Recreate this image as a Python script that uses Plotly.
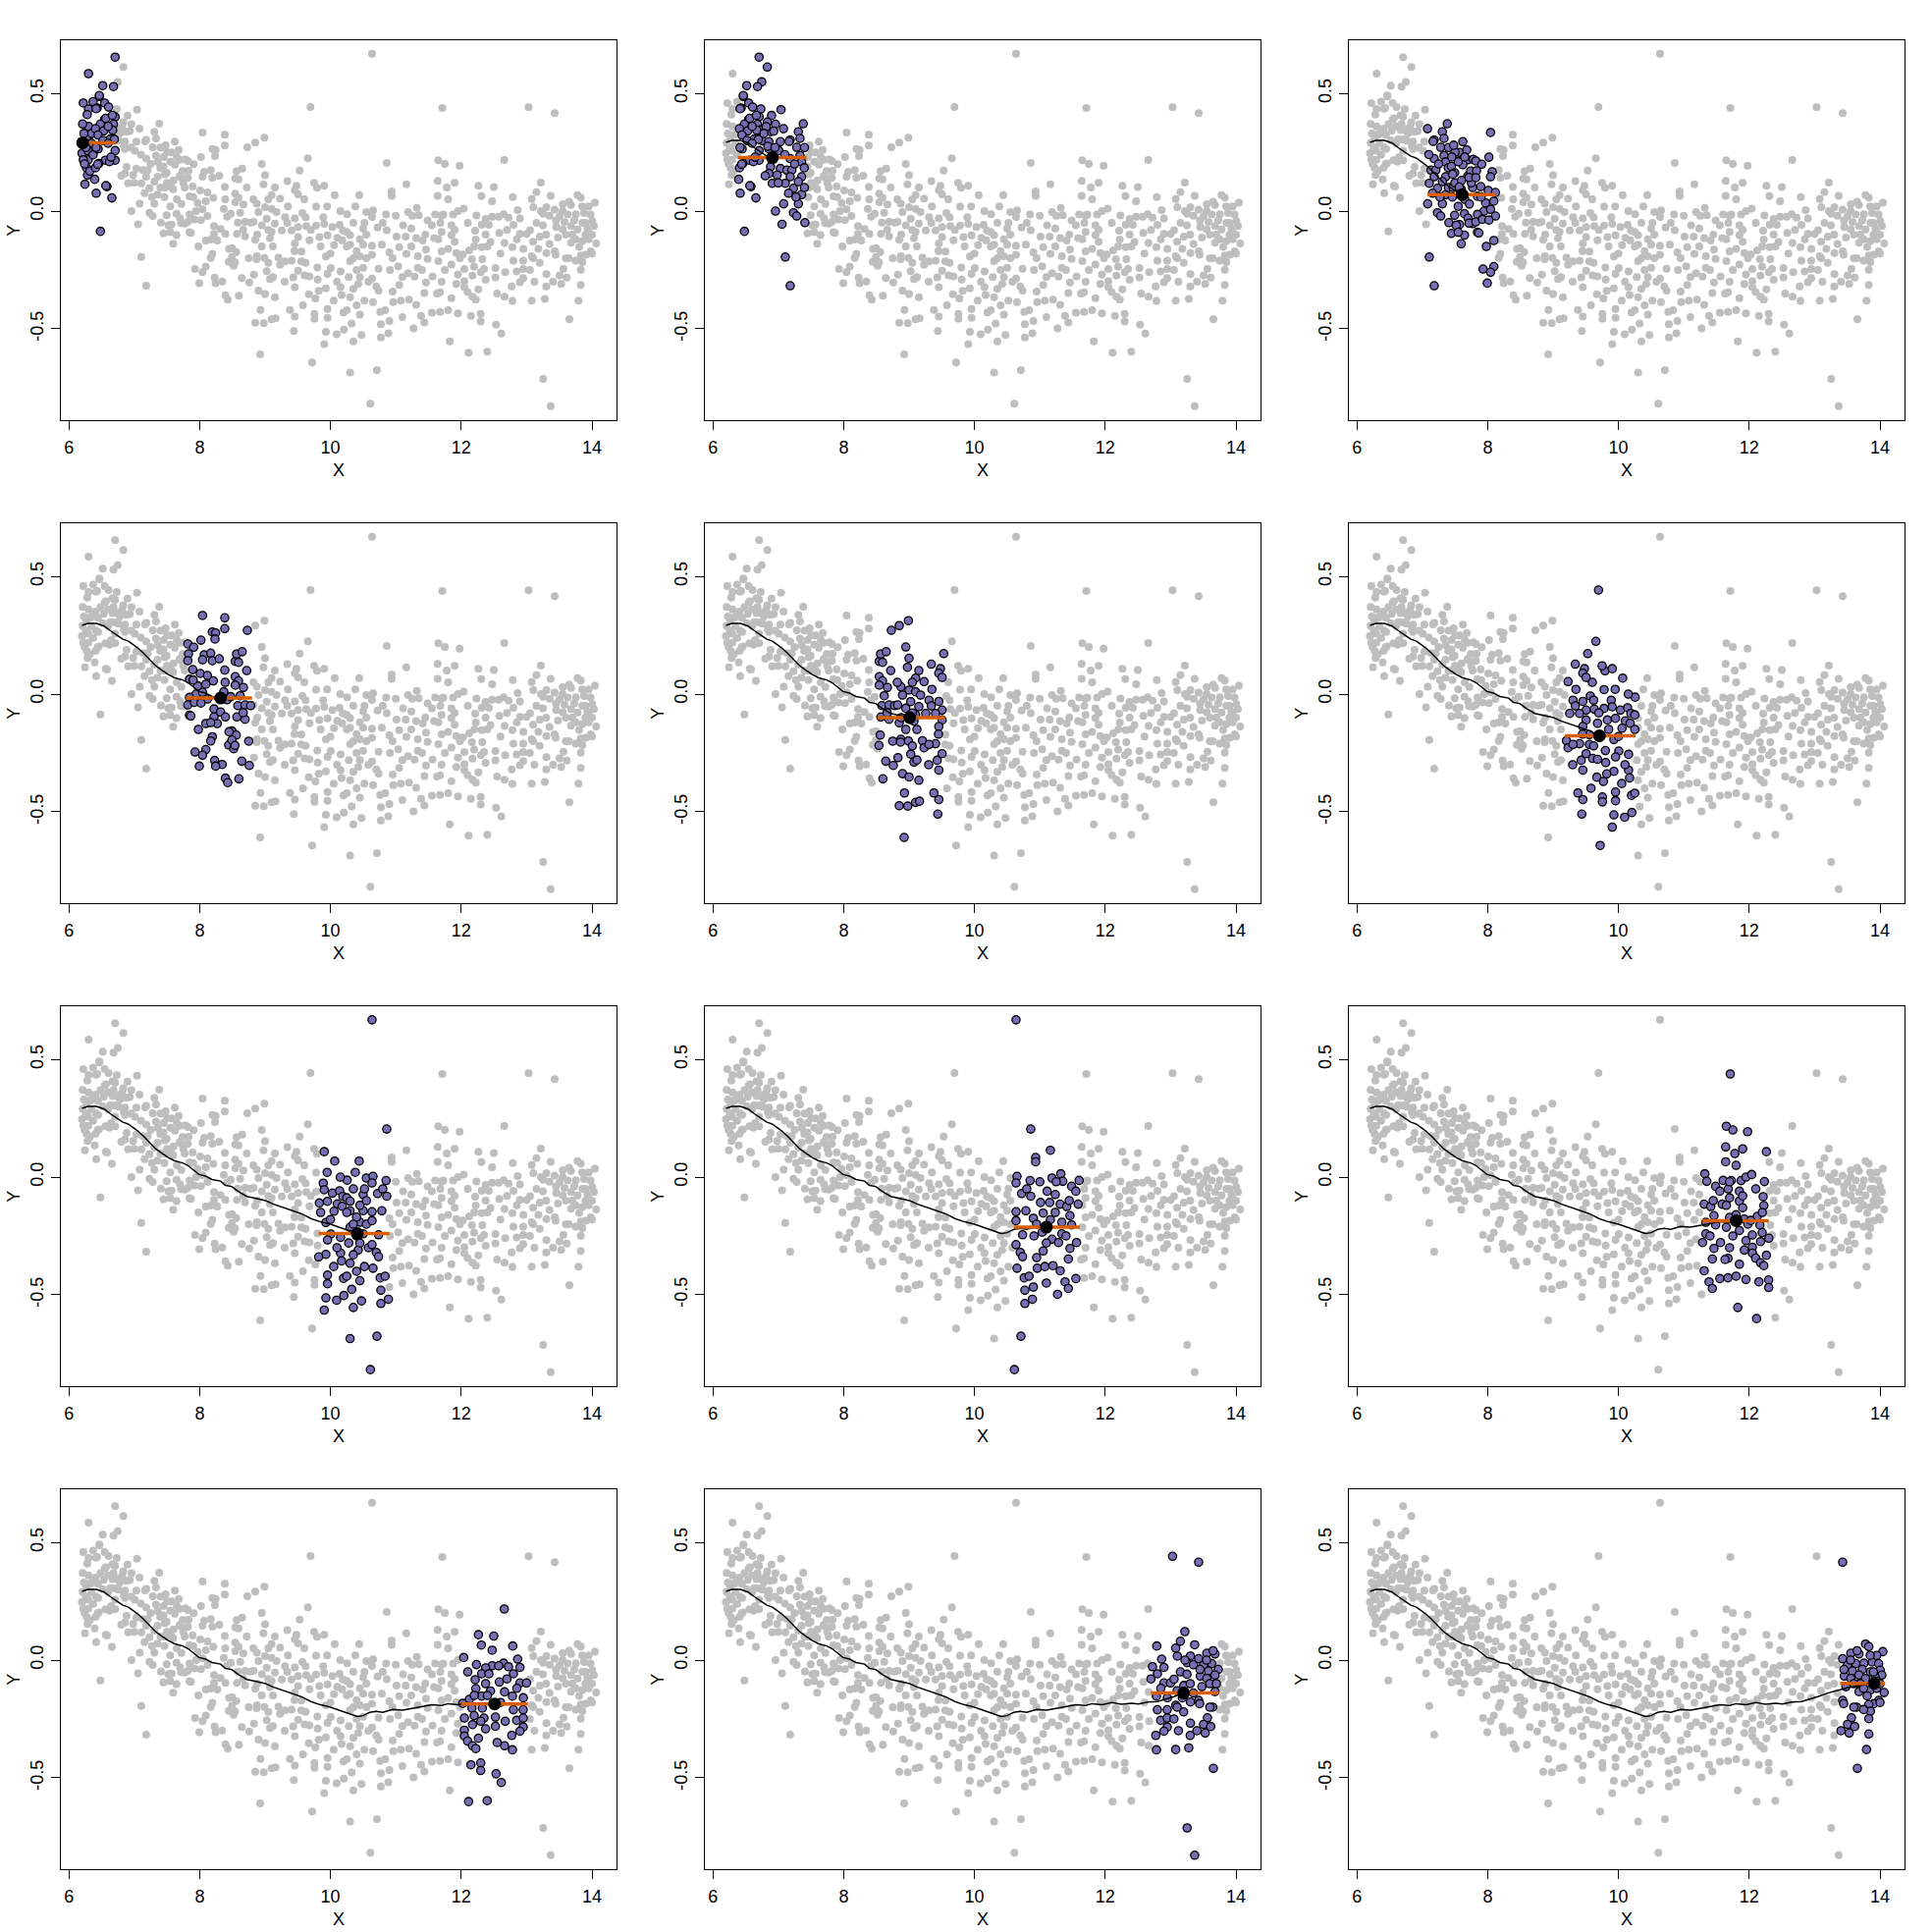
import plotly.graph_objects as go

# ---------------- data ----------------
seg_a = [(6.30,0.584),(6.22,0.459),(6.30,0.434),(6.32,0.323),(6.27,0.313),(6.21,0.29),(6.345,0.288),
         (6.20,0.246),(6.295,0.257),(6.295,0.218),(6.22,0.218),(6.37,0.239),(6.27,0.184),(6.285,0.153),
         (6.245,0.114),(6.37,0.465),(6.23,0.33),(6.26,0.27),(6.30,0.36),(6.24,0.20),(6.21,0.37),(6.28,0.41),
         (6.35,0.33),(6.32,0.17)]
seg_b = [(6.707,0.654),(6.832,0.612),(6.747,0.549),(6.682,0.529),(6.517,0.533),(6.467,0.487),(6.547,0.459),
         (6.432,0.438),(6.607,0.442),(6.732,0.434),(7.042,0.431),(6.897,0.406),(6.547,0.389),(6.707,0.40),
         (7.382,0.371),(6.957,0.369),(6.482,0.369),(6.682,0.369),(6.832,0.378),(6.407,0.35),(6.532,0.341),
         (6.732,0.345),(6.882,0.337),(7.307,0.337),(7.332,0.309),(6.632,0.306),(6.757,0.299),(6.857,0.295),
         (7.032,0.295),(7.182,0.302),(7.007,0.257),(7.282,0.271),(6.447,0.264),(6.707,0.257),(6.857,0.264),
         (6.557,0.216),(6.457,0.202),(6.407,0.184),(6.707,0.216),(7.182,0.223),(7.332,0.236),(7.357,0.209),
         (7.397,0.184),(6.882,0.188),(7.032,0.181),(7.132,0.174),(7.207,0.174),(6.857,0.16),(6.982,0.153),
         (7.182,0.146),(7.357,0.146),(6.907,0.118),(7.107,0.118),(7.232,0.097),(7.307,0.125),(7.157,0.076),
         (7.357,0.07),(6.582,0.104),(6.417,0.076),(6.657,0.056),(7.307,0.031),(7.082,0.031),(6.957,0.0),
         (7.232,-0.007),(7.282,-0.021),(7.407,-0.049),(7.057,-0.056),(6.482,-0.086),(7.107,-0.195),
         (7.182,-0.317),(6.395,0.135),(6.62,0.21),(6.695,0.305),(6.67,0.344),(6.445,0.323),(6.52,0.30),
         (6.60,0.288),(6.645,0.229),(6.465,0.491),(6.415,0.435),(6.565,0.394),(6.665,0.407),(6.815,0.359),
         (6.84,0.275),(7.165,0.296),(6.44,0.199),(6.565,0.108),(6.415,0.27),(6.60,0.36),(6.78,0.33),
         (6.95,0.27),(7.10,0.24),(7.25,0.20),(7.40,0.27),(6.93,0.34),(7.08,0.35),(7.00,0.12),(6.80,0.15),
         (7.27,0.06),(7.40,0.10)]
seg_c = [(7.62,0.295),(7.57,0.249),(7.695,0.218),(7.445,0.19),(7.62,0.197),(7.495,0.163),(7.695,0.149),
         (7.47,0.10),(7.595,0.093),(7.77,0.10),(7.495,-0.018),(7.645,-0.011),(7.57,-0.057),(7.77,-0.053),
         (7.445,-0.095),(7.645,-0.102),(7.595,-0.139),(7.50,0.25),(7.55,0.21),(7.68,0.26),(7.74,0.17),
         (7.50,0.12),(7.65,0.05),(7.72,0.03),(7.55,0.02),(7.46,0.06),(7.70,-0.03),(7.60,0.13),(7.78,0.22),
         (7.52,-0.06),(7.75,0.12),(7.48,0.28),(7.45,0.23),(7.715,-0.051),(7.715,0.143),(7.565,0.102),
         (7.465,0.157),(7.65,0.23),(7.55,-0.09)]
seg_d = [(8.044,0.334),(8.384,0.324),(8.384,0.278),(8.194,0.264),(8.244,0.26),(8.729,0.271),(8.234,0.234),
         (8.019,0.229),(7.819,0.213),(7.909,0.199),(7.829,0.171),(8.069,0.167),(8.169,0.174),(8.044,0.146),
         (8.194,0.142),(7.819,0.142),(8.544,0.139),(8.594,0.135),(8.384,0.102),(8.719,0.10),(7.894,0.104),
         (8.009,0.088),(8.119,0.079),(7.844,0.063),(8.209,0.056),(8.544,0.074),(8.594,0.056),(8.544,0.038),
         (8.669,0.028),(7.969,0.035),(8.094,0.042),(7.944,0.0),(8.044,0.007),(8.369,0.01),(8.619,-0.007),
         (7.844,-0.014),(8.119,-0.021),(7.819,-0.046),(7.919,-0.035),(8.019,-0.038),(8.584,-0.049),
         (8.694,-0.046),(8.779,-0.049),(8.419,-0.024),(7.844,-0.09),(8.219,-0.063),(8.319,-0.076),
         (8.394,-0.097),(8.219,-0.097),(8.569,-0.097),(8.694,-0.107),(8.094,-0.125),(8.269,-0.125),
         (8.169,-0.121),(8.494,-0.157),(8.559,-0.174),(8.194,-0.181),(8.169,-0.199),(8.444,-0.216),
         (8.494,-0.195),(8.519,-0.232),(8.094,-0.236),(7.929,-0.246),(8.044,-0.26),(8.229,-0.282),
         (8.344,-0.299),(8.244,-0.306),(7.994,-0.306),(8.644,-0.285),(8.759,-0.303),(8.394,-0.357),
         (8.429,-0.376),(8.475,-0.011),(8.45,-0.16),(7.865,-0.093),(8.565,0.17),(8.39,0.05),(8.665,-0.079),
         (8.54,-0.218),(8.30,0.15),(8.65,0.18),(8.75,-0.20),(7.90,0.06),(7.98,-0.15),(8.60,-0.36)]
seg_e = [(8.85,0.291),(8.99,0.312),(9.0,0.152),(8.975,0.114),(9.1,0.068),(8.875,0.031),(9.0,0.017),
         (9.1,0.01),(9.175,-0.004),(8.9,-0.004),(8.825,-0.046),(9.025,-0.032),(9.15,-0.053),(8.85,-0.122),
         (9.1,-0.088),(9.075,-0.115),(8.875,-0.192),(8.99,-0.199),(8.9,-0.338),(9.025,-0.255),(9.075,-0.289),
         (9.15,-0.366),(9.0,-0.352),(8.85,-0.474),(8.925,-0.609),(8.82,0.05),(8.95,-0.06),(9.05,0.05),
         (9.12,-0.15),(8.88,-0.10),(9.15,0.10),(8.95,0.20),(9.05,-0.22),(8.83,-0.27),(9.12,-0.28),
         (8.93,-0.42),(9.10,-0.46),(8.98,-0.476),(8.95,-0.15),(9.05,-0.08),(9.16,-0.455),(8.87,-0.204)]
seg_f = [(9.695,0.442),(9.655,0.224),(9.53,0.172),(9.34,0.127),(9.48,0.108),(9.795,0.099),(9.905,0.108),
         (9.455,0.089),(9.505,0.071),(9.23,0.053),(10.065,0.068),(9.78,0.019),(9.57,-0.008),(9.305,-0.026),
         (9.455,-0.031),(9.62,-0.026),(9.89,-0.026),(10.255,-0.013),(9.34,-0.05),(9.505,-0.068),(9.63,-0.064),
         (9.78,-0.061),(9.905,-0.054),(9.255,-0.082),(9.405,-0.082),(10.03,-0.068),(10.14,-0.058),
         (10.19,-0.082),(9.505,-0.11),(9.83,-0.11),(9.955,-0.103),(10.105,-0.114),(10.18,-0.124),
         (9.68,-0.124),(9.455,-0.138),(10.055,-0.145),(9.555,-0.172),(9.93,-0.193),(9.205,-0.198),
         (9.405,-0.211),(9.555,-0.214),(9.23,-0.228),(9.305,-0.214),(10.005,-0.242),(10.155,-0.256),
         (9.505,-0.253),(9.43,-0.281),(9.605,-0.273),(9.68,-0.277),(9.955,-0.267),(9.805,-0.291),
         (9.455,-0.323),(9.93,-0.328),(9.82,-0.339),(10.155,-0.323),(10.17,-0.356),(9.67,-0.353),
         (9.77,-0.371),(9.38,-0.42),(9.455,-0.448),(9.755,-0.437),(9.755,-0.458),(9.955,-0.416),
         (9.955,-0.453),(9.44,-0.51),(9.93,-0.513),(10.095,-0.523),(10.205,-0.503),(9.905,-0.565),
         (9.72,-0.643),(10.2,-0.43),(9.35,0.02),(9.60,0.05),(9.70,-0.08),(9.85,-0.15),(10.0,-0.18),
         (10.1,-0.30),(9.45,-0.17),(9.62,-0.22),(9.80,-0.24),(9.30,-0.30),(9.58,-0.40),(10.05,-0.38),
         (9.95,0.02),(10.15,0.00),(9.75,0.12)]
seg_g = [(10.55,-0.004),(10.44,0.068),(10.50,-0.074),(10.30,-0.143),(10.50,-0.143),(10.30,-0.213),
         (10.45,-0.192),(10.50,-0.241),(10.425,-0.31),(10.30,-0.366),(10.25,-0.421),(10.325,-0.477),
         (10.475,-0.526),(10.35,-0.554),(10.30,-0.686),(10.25,-0.088),(10.30,-0.102),(10.35,-0.05),
         (10.45,-0.12),(10.55,-0.20),(10.40,-0.25),(10.58,-0.30),(10.38,0.02),(10.52,-0.38),(10.28,-0.28),
         (10.45,-0.44),(10.55,-0.10),(10.40,-0.17),(10.35,-0.33),(10.35,-0.20),(10.45,-0.28),(10.25,-0.15),
         (10.52,-0.05),(10.40,-0.40)]
seg_h = [(10.636,0.668),(10.861,0.204),(11.161,0.114),(10.936,0.083),(10.936,0.065),(10.651,0.003),
         (10.636,-0.025),(10.851,-0.015),(11.186,-0.004),(11.321,0.014),(11.351,-0.018),(11.601,-0.014),
         (11.486,-0.039),(11.551,-0.06),(10.721,-0.07),(10.861,-0.081),(11.111,-0.06),(11.236,-0.074),
         (11.011,-0.108),(11.151,-0.108),(11.311,-0.115),(11.411,-0.125),(11.586,-0.115),(10.636,-0.147),
         (10.786,-0.143),(11.051,-0.153),(11.236,-0.15),(11.461,-0.164),(10.636,-0.185),(10.901,-0.175),
         (11.161,-0.181),(11.336,-0.192),(11.486,-0.203),(10.736,-0.245),(10.911,-0.25),(11.036,-0.234),
         (11.186,-0.264),(11.336,-0.241),(11.286,-0.278),(11.561,-0.278),(11.461,-0.303),(10.636,-0.287),
         (10.701,-0.32),(10.736,-0.338),(11.051,-0.314),(10.951,-0.342),(11.436,-0.348),(10.651,-0.387),
         (10.961,-0.387),(11.076,-0.38),(11.201,-0.376),(11.311,-0.398),(11.551,-0.431),(11.386,-0.445),
         (11.436,-0.473),(10.761,-0.428),(10.836,-0.421),(10.771,-0.481),(10.901,-0.467),(11.271,-0.498),
         (10.886,-0.519),(10.771,-0.537),(10.711,-0.676),(10.611,-0.818),(10.80,-0.05),(11.00,-0.02),
         (11.25,-0.02),(11.45,-0.10),(10.95,-0.20),(11.10,-0.28),(11.40,-0.25),(11.10,-0.45)]
seg_i = [(11.71,0.438),(11.65,0.216),(11.975,0.193),(11.64,0.128),(11.64,0.065),(11.725,-0.015),
         (11.875,-0.015),(11.70,-0.088),(11.85,-0.06),(11.85,-0.102),(11.70,-0.171),(11.925,-0.178),
         (11.65,-0.213),(11.85,-0.227),(11.675,-0.345),(11.925,-0.31),(11.675,-0.428),(11.80,-0.421),
         (11.95,-0.435),(11.825,-0.554),(11.75,0.20),(11.90,0.12),(11.80,0.05),(11.95,0.0),(11.68,-0.05),
         (11.90,-0.13),(11.75,-0.25),(11.95,-0.27),(11.70,-0.30),(11.85,-0.37),(11.65,-0.12),(11.98,-0.20),
         (11.80,-0.16),(11.78,0.10),(11.70,-0.02),(11.90,-0.08),(11.63,-0.35)]
seg_j = [(12.659,0.217),(12.263,0.108),(12.498,0.102),(12.308,0.064),(12.473,0.042),(12.788,0.06),
         (12.038,0.011),(12.863,0.004),(12.233,-0.019),(12.473,-0.024),(12.648,-0.013),(12.723,-0.028),
         (12.898,-0.031),(12.573,-0.024),(12.373,-0.033),(12.313,-0.058),(12.423,-0.058),(12.798,-0.058),
         (12.213,-0.083),(12.373,-0.10),(12.583,-0.093),(12.898,-0.097),(12.998,-0.097),(12.223,-0.121),
         (12.448,-0.131),(12.663,-0.135),(12.313,-0.153),(12.783,-0.153),(12.123,-0.167),(12.023,-0.184),
         (12.163,-0.204),(12.323,-0.204),(12.798,-0.211),(12.948,-0.211),(12.048,-0.246),(12.198,-0.236),
         (12.348,-0.246),(12.523,-0.242),(12.673,-0.26),(12.848,-0.256),(12.948,-0.246),(12.173,-0.274),
         (12.373,-0.292),(12.523,-0.281),(12.948,-0.284),(12.898,-0.302),(12.048,-0.298),(12.773,-0.32),
         (12.048,-0.323),(12.098,-0.344),(12.263,-0.332),(12.173,-0.364),(12.223,-0.376),(12.663,-0.364),
         (12.783,-0.381),(12.298,-0.437),(12.148,-0.445),(12.298,-0.469),(12.533,-0.483),(12.613,-0.52),
         (12.113,-0.601),(12.398,-0.597),(12.10,-0.05),(12.20,-0.15),(12.40,-0.15),(12.60,-0.18),
         (12.70,-0.08),(12.85,-0.12),(12.55,-0.35),(12.30,-0.26),(12.95,-0.16)]
seg_k = [(13.03,0.441),(13.218,0.121),(13.078,0.051),(13.368,0.065),(13.103,0.017),(13.303,0.017),
         (13.253,-0.011),(13.053,-0.081),(13.203,-0.108),(13.078,-0.192),(13.303,-0.178),(13.303,-0.268),
         (13.078,-0.38),(13.278,-0.373),(13.253,-0.713),(13.368,-0.829),(13.15,-0.05),(13.10,-0.13),
         (13.25,-0.06),(13.35,-0.14),(13.20,-0.22),(13.05,-0.25),(13.35,-0.02),(13.15,0.08),(13.30,-0.32),
         (13.12,-0.30),(13.22,0.0),(13.18,-0.16),(13.10,-0.20),(13.30,-0.10)]
seg_l = [(13.429,0.416),(13.779,0.068),(13.829,0.057),(14.044,0.036),(13.679,0.026),(13.554,0.029),
         (13.429,0.006),(13.879,-0.008),(13.979,-0.015),(13.754,-0.013),(13.504,-0.022),(13.629,-0.015),
         (13.579,-0.046),(14.004,-0.043),(13.729,-0.04),(13.854,-0.05),(14.029,-0.064),(13.679,-0.064),
         (13.454,-0.068),(13.554,-0.078),(13.779,-0.078),(13.929,-0.074),(13.479,-0.113),(13.679,-0.134),
         (13.854,-0.127),(14.064,-0.138),(13.804,-0.152),(13.979,-0.171),(13.904,-0.185),(13.429,-0.171),
         (13.444,-0.185),(13.829,-0.189),(13.644,-0.20),(13.854,-0.217),(13.564,-0.245),(13.829,-0.249),
         (13.504,-0.273),(13.614,-0.282),(13.404,-0.30),(13.529,-0.31),(13.829,-0.314),(13.794,-0.38),
         (13.654,-0.46),(13.90,-0.10),(13.95,-0.09),(13.95,-0.12),(13.60,-0.10),(13.70,-0.10),(13.65,0.04),
         (13.95,0.02),(14.0,-0.10),(13.75,-0.21),(13.45,-0.04),(13.60,-0.20),(13.75,-0.12),(13.90,-0.05),
         (14.00,-0.18),(13.85,0.02),(13.55,0.00)]

# sliding windows (one per panel)
win_lo = [6.20, 6.38, 7.08, 7.79, 8.52, 9.18, 9.82, 10.60, 11.28, 12.00, 12.70, 13.39]
win_hi = [6.72, 7.43, 8.13, 8.80, 9.55, 10.26, 10.90, 11.61, 12.30, 13.02, 13.74, 14.08]
win_cx = [6.21, 6.91, 7.61, 8.32, 9.01, 9.71, 10.41, 11.10, 11.80, 12.51, 13.20, 13.91]
win_mean = [0.29, 0.227, 0.07, -0.017, -0.10, -0.177, -0.24, -0.213, -0.185, -0.186, -0.14, -0.099]

# running-mean curve
curve_x = [6.20,6.29,6.42,6.54,6.64,6.74,6.82,6.91,7.04,7.14,7.24,7.32,7.42,7.52,7.61,7.74,7.82,7.89,7.99,8.09,
           8.19,8.32,8.39,8.49,8.59,8.72,8.84,8.97,9.01,9.12,9.27,9.40,9.55,9.71,9.85,10.00,10.15,10.30,10.41,10.50,
           10.60,10.70,10.80,10.95,11.10,11.25,11.40,11.55,11.70,11.80,11.95,12.10,12.25,12.40,12.51,12.65,12.80,
           12.95,13.05,13.20,13.35,13.50,13.65,13.80,13.91]
curve_y = [0.292,0.300,0.300,0.289,0.268,0.248,0.234,0.225,0.199,0.174,0.146,0.122,0.102,0.083,0.070,0.060,0.049,
           0.032,0.011,0.004,-0.010,-0.017,-0.035,-0.040,-0.061,-0.082,-0.090,-0.098,-0.100,-0.114,-0.128,-0.140,
           -0.155,-0.177,-0.190,-0.200,-0.215,-0.230,-0.240,-0.236,-0.222,-0.218,-0.222,-0.210,-0.213,-0.205,-0.196,
           -0.190,-0.193,-0.185,-0.190,-0.180,-0.188,-0.183,-0.186,-0.178,-0.176,-0.165,-0.155,-0.140,-0.128,-0.118,
           -0.110,-0.104,-0.099]

x_ticks = [6, 8, 10, 12, 14]
x_ticktext = ["6", "8", "10", "12", "14"]
y_ticks = [-0.5, 0.0, 0.5]
y_ticktext = ["-0.5", "0.0", "0.5"]

# ---------------- figure ----------------
pts = seg_a + seg_b + seg_c + seg_d + seg_e + seg_f + seg_g + seg_h + seg_i + seg_j + seg_k + seg_l
data_x = [p[0] for p in pts]
data_y = [p[1] for p in pts]

W = H = 1968
FONT = "Liberation Sans, Arial, Helvetica, sans-serif"
GRAY = "#BEBEBE"
PURPLE = "#7570B3"
ORANGE = "#D95F02"
FS = 18

col_left = [62.4, 718.4, 1374.4]
box_w = 565.4
row_top = [40.7, 532.7, 1024.7, 1516.7]
box_h = 387.5

fig = go.Figure()
annotations = []
layout_axes = {}

for k in range(12):
    r, c = divmod(k, 3)
    sfx = "" if k == 0 else str(k + 1)
    xr, yr = "x" + sfx, "y" + sfx

    fig.add_trace(go.Scatter(x=data_x, y=data_y, xaxis=xr, yaxis=yr, mode="markers",
                             marker=dict(color=GRAY, size=8, line=dict(width=0)),
                             hoverinfo="skip", showlegend=False))
    sel = [i for i in range(len(data_x)) if win_lo[k] <= data_x[i] <= win_hi[k]]
    fig.add_trace(go.Scatter(x=[data_x[i] for i in sel], y=[data_y[i] for i in sel],
                             xaxis=xr, yaxis=yr, mode="markers",
                             marker=dict(color=PURPLE, size=8.3, line=dict(color="black", width=1.3)),
                             showlegend=False))
    cidx = [i for i in range(len(curve_x)) if curve_x[i] <= win_cx[k] + 1e-9]
    if len(cidx) > 1:
        fig.add_trace(go.Scatter(x=[curve_x[i] for i in cidx], y=[curve_y[i] for i in cidx],
                                 xaxis=xr, yaxis=yr, mode="lines",
                                 line=dict(color="black", width=1.5), showlegend=False))
    fig.add_trace(go.Scatter(x=[win_lo[k], win_hi[k]], y=[win_mean[k], win_mean[k]],
                             xaxis=xr, yaxis=yr, mode="lines",
                             line=dict(color=ORANGE, width=3.5), showlegend=False))
    fig.add_trace(go.Scatter(x=[win_cx[k]], y=[win_mean[k]], xaxis=xr, yaxis=yr, mode="markers",
                             marker=dict(color="black", size=13, line=dict(width=0)), showlegend=False))

    x0 = col_left[c]
    y0 = row_top[r]
    common = dict(showgrid=False, zeroline=False, showline=True, mirror=True,
                  linecolor="black", linewidth=1.4, ticks="outside", ticklen=9,
                  tickwidth=1.4, tickcolor="black",
                  tickfont=dict(family=FONT, size=FS, color="black"))
    layout_axes["xaxis" + sfx] = dict(domain=[x0 / W, (x0 + box_w) / W], range=[5.883, 14.372],
                                      anchor=yr, tickvals=x_ticks, ticktext=x_ticktext,
                                      ticklabelstandoff=2, **common)
    layout_axes["yaxis" + sfx] = dict(domain=[1 - (y0 + box_h) / H, 1 - y0 / H], range=[-0.889, 0.727],
                                      anchor=xr, tickvals=y_ticks, ticktext=y_ticktext,
                                      tickangle=-90, ticklabelstandoff=1, **common)
    annotations.append(dict(text="X", xref="paper", yref="paper", x=(x0 + box_w / 2) / W,
                            y=1 - (y0 + 438) / H, xanchor="center", yanchor="middle",
                            showarrow=False, font=dict(family=FONT, size=FS, color="black")))
    annotations.append(dict(text="Y", xref="paper", yref="paper", x=(x0 - 48) / W,
                            y=1 - (y0 + box_h / 2) / H, xanchor="center", yanchor="middle",
                            textangle=-90, showarrow=False,
                            font=dict(family=FONT, size=FS, color="black")))

fig.update_layout(width=W, height=H, margin=dict(l=0, r=0, t=0, b=0),
                  paper_bgcolor="white", plot_bgcolor="white",
                  annotations=annotations, showlegend=False, **layout_axes)

fig.write_html("out.html", config={"displayModeBar": False},
               post_script="document.body.style.margin='0px';")
